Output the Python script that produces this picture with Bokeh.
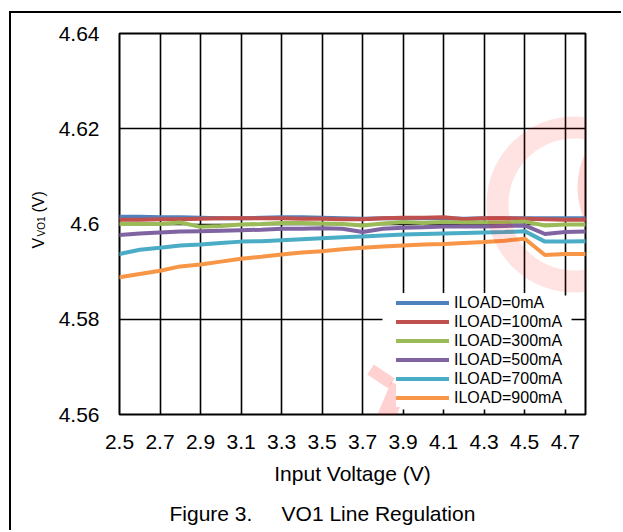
import numpy as np
from bokeh.plotting import figure
from bokeh.models import FixedTicker, Legend, LegendItem, Label, BoxAnnotation, PolyAnnotation
from bokeh.embed import file_html
from bokeh.resources import INLINE

# Input voltage sweep (V)
vin = [2.5, 2.6, 2.7, 2.8, 2.9, 3.0, 3.1, 3.2, 3.3, 3.4, 3.5, 3.6,
       3.7, 3.8, 3.9, 4.0, 4.1, 4.2, 4.3, 4.4, 4.5, 4.6, 4.7, 4.8]

# VO1 output voltage (V) for each load current
vo_0ma = [4.6015, 4.6015, 4.6014, 4.6014, 4.6013, 4.6012, 4.6012, 4.6013,
          4.6014, 4.6014, 4.6013, 4.6012, 4.6011, 4.6012, 4.6012, 4.6012,
          4.6012, 4.6011, 4.6012, 4.6012, 4.6012, 4.6012, 4.6012, 4.6012]
vo_100ma = [4.6009, 4.6009, 4.6010, 4.6010, 4.6011, 4.6012, 4.6012, 4.6012,
            4.6012, 4.6011, 4.6011, 4.6010, 4.6010, 4.6012, 4.6013, 4.6013,
            4.6014, 4.6010, 4.6012, 4.6012, 4.6011, 4.6010, 4.6009, 4.6009]
vo_300ma = [4.6000, 4.6000, 4.6000, 4.6003, 4.5994, 4.5996, 4.5999, 4.6000,
            4.6002, 4.6002, 4.6001, 4.6000, 4.5997, 4.6001, 4.6004, 4.6002,
            4.6004, 4.6003, 4.6003, 4.6003, 4.6005, 4.5997, 4.5999, 4.5999]
vo_500ma = [4.5977, 4.5980, 4.5982, 4.5984, 4.5985, 4.5986, 4.5987, 4.5988,
            4.5990, 4.5990, 4.5991, 4.5990, 4.5983, 4.5990, 4.5992, 4.5993,
            4.5995, 4.5995, 4.5995, 4.5996, 4.5997, 4.5979, 4.5983, 4.5984]
vo_700ma = [4.5937, 4.5946, 4.5950, 4.5955, 4.5957, 4.5960, 4.5963, 4.5964,
            4.5966, 4.5968, 4.5970, 4.5972, 4.5974, 4.5976, 4.5978, 4.5979,
            4.5980, 4.5981, 4.5982, 4.5983, 4.5985, 4.5963, 4.5963, 4.5964]
vo_900ma = [4.5888, 4.5895, 4.5902, 4.5911, 4.5915, 4.5921, 4.5927, 4.5931,
            4.5936, 4.5940, 4.5943, 4.5947, 4.5950, 4.5953, 4.5955, 4.5957,
            4.5958, 4.5960, 4.5962, 4.5965, 4.5969, 4.5935, 4.5937, 4.5937]

series_labels = ["ILOAD=0mA", "ILOAD=100mA", "ILOAD=300mA",
                 "ILOAD=500mA", "ILOAD=700mA", "ILOAD=900mA"]
series_values = [vo_0ma, vo_100ma, vo_300ma, vo_500ma, vo_700ma, vo_900ma]
series_colors = ["#4F81BD", "#C0504D", "#9BBB59", "#8064A2", "#4BACC6", "#F79646"]

x_ticks = [2.5, 2.7, 2.9, 3.1, 3.3, 3.5, 3.7, 3.9, 4.1, 4.3, 4.5, 4.7]
x_tick_labels = ["2.5", "2.7", "2.9", "3.1", "3.3", "3.5", "3.7", "3.9", "4.1", "4.3", "4.5", "4.7"]
y_ticks = [4.56, 4.58, 4.6, 4.62, 4.64]
y_tick_labels = ["4.56", "4.58", "4.6", "4.62", "4.64"]

FONT = "Liberation Sans"
NBSP = "\u00a0"

# the page frame is a CSS border round the canvas; OX/OY is where the canvas starts
OX, OY = 11, 13
p = figure(width=623 - OX, height=532 - OY, x_range=(2.5, 4.8), y_range=(4.56, 4.64),
           output_backend="svg", toolbar_location=None,
           min_border_left=119 - OX, min_border_right=38,
           min_border_top=33 - OY, min_border_bottom=118)
p.margin = (11, 0, 0, 9)
p.styles = {"border-left": "2px solid black", "border-top": "2px solid black"}
p.background_fill_color = "white"
p.border_fill_color = "white"
p.outline_line_color = "black"
p.outline_line_width = 2
p.outline_line_alpha = 1

for g, ticks in ((p.xgrid, x_ticks), (p.ygrid, y_ticks)):
    g.ticker = FixedTicker(ticks=ticks)
    g.grid_line_color = "black"
    g.grid_line_width = 1.6
    g.grid_line_alpha = 1

for ax, ticks, labels in ((p.xaxis[0], x_ticks, x_tick_labels), (p.yaxis[0], y_ticks, y_tick_labels)):
    ax.ticker = FixedTicker(ticks=ticks)
    ax.major_label_overrides = {t: s for t, s in zip(ticks, labels)}
    ax.axis_line_color = None
    ax.major_tick_line_color = None
    ax.minor_tick_line_color = None
    ax.major_tick_out = 0
    ax.major_tick_in = 0
    ax.minor_tick_out = 0
    ax.minor_tick_in = 0
    ax.major_label_text_font = FONT
    ax.major_label_text_font_size = "21px"
    ax.major_label_text_color = "black"

p.xaxis.major_label_standoff = 20
p.yaxis.major_label_standoff = 20
p.xaxis.axis_label = "Input Voltage (V)"
p.xaxis.axis_label_text_font = FONT
p.xaxis.axis_label_text_font_size = "21px"
p.xaxis.axis_label_text_font_style = "normal"
p.xaxis.axis_label_text_color = "black"
p.xaxis.axis_label_standoff = 10

renderers = []
for vals, col in zip(series_values, series_colors):
    r = p.line(vin, vals, line_color=col, line_width=4, line_join="round", line_cap="round")
    renderers.append(r)

def cbox(l, r, t, b, **kw):
    return BoxAnnotation(left=l - OX, right=r - OX, top=t - OY, bottom=b - OY,
                         left_units="canvas", right_units="canvas",
                         top_units="canvas", bottom_units="canvas", line_color=None, **kw)

# white backing behind the legend block
p.add_layout(cbox(380, 569, 293, 407, fill_color="white", fill_alpha=1))

legend = Legend(items=[LegendItem(label=lab, renderers=[r]) for lab, r in zip(series_labels, renderers)],
                location=(277, 7), padding=0, spacing=0, margin=0,
                glyph_width=53, glyph_height=19, label_height=19, label_standoff=5,
                label_text_font=FONT, label_text_font_size="16px", label_text_color="black",
                border_line_color=None, background_fill_color="white", background_fill_alpha=1)
p.add_layout(legend)

def canvas_label(text, x, y, size, angle=0.0):
    return Label(text=text, x=x - OX, y=y - OY, x_units="canvas", y_units="canvas", angle=angle,
                 text_font=FONT, text_font_size=size, text_color="black",
                 text_align="left", text_baseline="alphabetic")

# y axis title with subscript; the pieces sit in side panels so that they are
# not clipped to the frame (placement is absolute, panels only give them room)
p.add_layout(canvas_label("V", 36, 246, "16px", np.pi / 2), "right")
p.add_layout(canvas_label("VO1", 38.5, 234, "10px", np.pi / 2), "right")
p.add_layout(canvas_label("(V)", 36, 210, "16px", np.pi / 2), "left")

# caption
p.add_layout(canvas_label("Figure 3." + NBSP * 5 + "VO1 Line Regulation", 167, 511, "21px"), "below")

# faint stamp in the background
def ring(cx, cy, ro, ri, a0=0.0, a1=2 * np.pi, n=120):
    t = np.linspace(a0, a1, n)
    xs = list(cx + ro * np.cos(t)) + list(cx + ri * np.cos(t[::-1]))
    ys = list(cy - ro * np.sin(t)) + list(cy - ri * np.sin(t[::-1]))
    return xs, ys

def stroke(x0, y0, x1, y1, w):
    d = np.array([x1 - x0, y1 - y0], dtype=float)
    n = np.array([-d[1], d[0]]) / np.hypot(*d) * w / 2
    xs = [x0 + n[0], x1 + n[0], x1 - n[0], x0 - n[0]]
    ys = [y0 + n[1], y1 + n[1], y1 - n[1], y0 - n[1]]
    return xs, ys

stamp = [
    (ring(572, 202, 88, 66), 0.11),
    (ring(655, 185, 80, 58, np.radians(100), np.radians(205)), 0.16),
    (stroke(368, 367, 389, 381, 12), 0.18),
    (stroke(397, 383, 330, 540, 18), 0.18),
]
for (xs, ys), a in stamp:
    p.add_layout(PolyAnnotation(xs=[v - OX for v in xs], ys=[v - OY for v in ys],
                                xs_units="canvas", ys_units="canvas",
                                fill_color="red", fill_alpha=a, line_color=None))

open("out.html", "w").write(file_html(p, INLINE))
